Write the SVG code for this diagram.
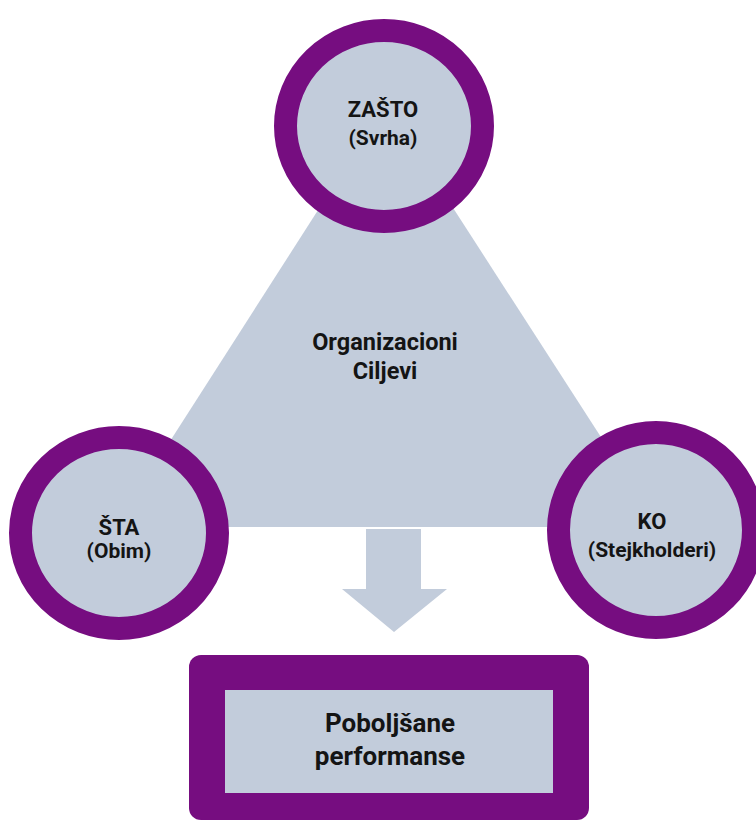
<svg xmlns="http://www.w3.org/2000/svg" width="756" height="822" viewBox="0 0 756 822">
<style>
.ring{fill:#c2ccdb;stroke:#760d80;stroke-width:23}
.fill{fill:#c2ccdb}
.t{font-family:Roboto,"Liberation Sans",sans-serif;font-weight:bold;fill:#141414;text-anchor:middle}
</style>
<rect width="756" height="822" fill="#ffffff"/>
<g id="goals">
<polygon class="fill" points="386,104 659,527 115,527"/>
<text class="t" x="385" y="350" font-size="23.5">Organizacioni</text>
<text class="t" x="385" y="379" font-size="23.5">Ciljevi</text>
</g>
<g id="connectors">
<polygon class="fill" points="366,529 421,529 421,589 447,589 394,632 342,589 366,589"/>
</g>
<g id="why">
<ellipse class="ring" cx="384" cy="126" rx="98.5" ry="95.5"/>
<text class="t" x="383" y="117" font-size="22">ZAŠTO</text>
<text class="t" x="383" y="145" font-size="21">(Svrha)</text>
</g>
<g id="what">
<ellipse class="ring" cx="119" cy="533" rx="98.5" ry="95.5"/>
<text class="t" x="119" y="535" font-size="22">ŠTA</text>
<text class="t" x="119" y="558" font-size="21">(Obim)</text>
</g>
<g id="who">
<ellipse class="ring" cx="656" cy="530" rx="97.5" ry="97.5"/>
<text class="t" x="652" y="529" font-size="22">KO</text>
<text class="t" x="652" y="557" font-size="21">(Stejkholderi)</text>
</g>
<g id="result">
<rect x="189" y="655" width="400" height="165" rx="12" fill="#760d80"/>
<rect x="225" y="690" width="328" height="103" fill="#c2ccdb"/>
<text class="t" x="390" y="732" font-size="26">Poboljšane</text>
<text class="t" x="390" y="765" font-size="26">performanse</text>
</g>
</svg>
